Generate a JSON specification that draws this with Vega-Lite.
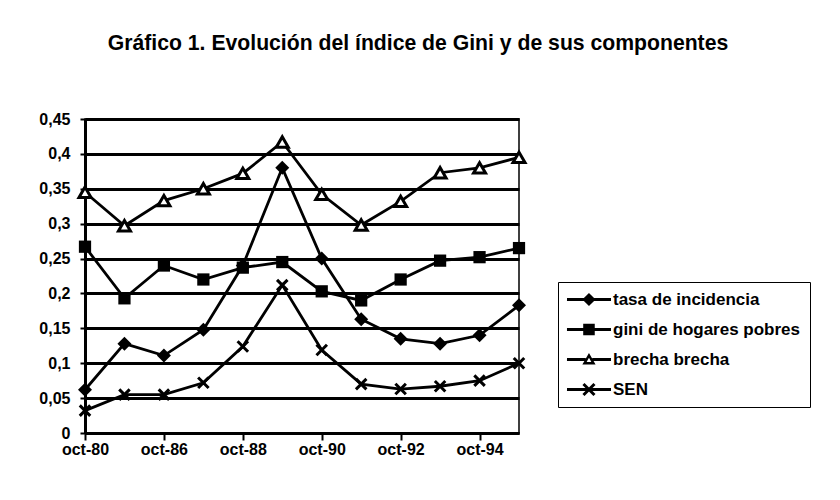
{
  "$schema": "https://vega.github.io/schema/vega-lite/v6.json",
  "width": 434,
  "height": 314,
  "autosize": "none",
  "padding": {"left": 85, "top": 119, "right": 321, "bottom": 67},
  "background": "white",
  "config": {
    "font": "Liberation Sans",
    "view": {"stroke": "black", "strokeWidth": 1.5}
  },
  "title": {
    "text": "Gráfico 1. Evolución del índice de Gini y de sus componentes",
    "anchor": "middle",
    "dx": 116,
    "offset": 57,
    "fontSize": 21.2,
    "fontWeight": "bold",
    "font": "Liberation Sans",
    "color": "black"
  },
  "data": {
    "values": [
      {"fecha": "oct-80", "serie": "tasa de incidencia", "valor": 0.062},
      {"fecha": "oct-85", "serie": "tasa de incidencia", "valor": 0.128},
      {"fecha": "oct-86", "serie": "tasa de incidencia", "valor": 0.111},
      {"fecha": "oct-87", "serie": "tasa de incidencia", "valor": 0.148},
      {"fecha": "oct-88", "serie": "tasa de incidencia", "valor": 0.24},
      {"fecha": "oct-89", "serie": "tasa de incidencia", "valor": 0.38},
      {"fecha": "oct-90", "serie": "tasa de incidencia", "valor": 0.25},
      {"fecha": "oct-91", "serie": "tasa de incidencia", "valor": 0.163},
      {"fecha": "oct-92", "serie": "tasa de incidencia", "valor": 0.135},
      {"fecha": "oct-93", "serie": "tasa de incidencia", "valor": 0.128},
      {"fecha": "oct-94", "serie": "tasa de incidencia", "valor": 0.14},
      {"fecha": "oct-95", "serie": "tasa de incidencia", "valor": 0.183},
      {"fecha": "oct-80", "serie": "gini de hogares pobres", "valor": 0.267},
      {"fecha": "oct-85", "serie": "gini de hogares pobres", "valor": 0.193},
      {"fecha": "oct-86", "serie": "gini de hogares pobres", "valor": 0.24},
      {"fecha": "oct-87", "serie": "gini de hogares pobres", "valor": 0.22},
      {"fecha": "oct-88", "serie": "gini de hogares pobres", "valor": 0.237},
      {"fecha": "oct-89", "serie": "gini de hogares pobres", "valor": 0.245},
      {"fecha": "oct-90", "serie": "gini de hogares pobres", "valor": 0.203},
      {"fecha": "oct-91", "serie": "gini de hogares pobres", "valor": 0.19},
      {"fecha": "oct-92", "serie": "gini de hogares pobres", "valor": 0.22},
      {"fecha": "oct-93", "serie": "gini de hogares pobres", "valor": 0.247},
      {"fecha": "oct-94", "serie": "gini de hogares pobres", "valor": 0.252},
      {"fecha": "oct-95", "serie": "gini de hogares pobres", "valor": 0.265},
      {"fecha": "oct-80", "serie": "brecha brecha", "valor": 0.345},
      {"fecha": "oct-85", "serie": "brecha brecha", "valor": 0.297},
      {"fecha": "oct-86", "serie": "brecha brecha", "valor": 0.333},
      {"fecha": "oct-87", "serie": "brecha brecha", "valor": 0.35},
      {"fecha": "oct-88", "serie": "brecha brecha", "valor": 0.372},
      {"fecha": "oct-89", "serie": "brecha brecha", "valor": 0.417},
      {"fecha": "oct-90", "serie": "brecha brecha", "valor": 0.342},
      {"fecha": "oct-91", "serie": "brecha brecha", "valor": 0.298},
      {"fecha": "oct-92", "serie": "brecha brecha", "valor": 0.332},
      {"fecha": "oct-93", "serie": "brecha brecha", "valor": 0.373},
      {"fecha": "oct-94", "serie": "brecha brecha", "valor": 0.38},
      {"fecha": "oct-95", "serie": "brecha brecha", "valor": 0.395},
      {"fecha": "oct-80", "serie": "SEN", "valor": 0.032},
      {"fecha": "oct-85", "serie": "SEN", "valor": 0.055},
      {"fecha": "oct-86", "serie": "SEN", "valor": 0.055},
      {"fecha": "oct-87", "serie": "SEN", "valor": 0.072},
      {"fecha": "oct-88", "serie": "SEN", "valor": 0.124},
      {"fecha": "oct-89", "serie": "SEN", "valor": 0.212},
      {"fecha": "oct-90", "serie": "SEN", "valor": 0.119},
      {"fecha": "oct-91", "serie": "SEN", "valor": 0.07},
      {"fecha": "oct-92", "serie": "SEN", "valor": 0.063},
      {"fecha": "oct-93", "serie": "SEN", "valor": 0.067},
      {"fecha": "oct-94", "serie": "SEN", "valor": 0.075},
      {"fecha": "oct-95", "serie": "SEN", "valor": 0.1}
    ]
  },
  "encoding": {
    "x": {
      "field": "fecha",
      "type": "ordinal",
      "scale": {
        "type": "point",
        "padding": 0,
        "domain": ["oct-80", "oct-85", "oct-86", "oct-87", "oct-88", "oct-89", "oct-90", "oct-91", "oct-92", "oct-93", "oct-94", "oct-95"]
      },
      "axis": {
        "title": null,
        "values": ["oct-80", "oct-86", "oct-88", "oct-90", "oct-92", "oct-94"],
        "labelAngle": 0,
        "labelFontSize": 16,
        "labelFontWeight": "bold",
        "labelColor": "black",
        "labelPadding": 1,
        "domainColor": "black",
        "domainWidth": 3,
        "tickColor": "black",
        "tickWidth": 2,
        "tickSize": 7,
        "grid": false
      }
    },
    "y": {
      "field": "valor",
      "type": "quantitative",
      "scale": {"domain": [0, 0.45], "nice": false, "zero": true},
      "axis": {
        "title": null,
        "values": [0, 0.05, 0.1, 0.15, 0.2, 0.25, 0.3, 0.35, 0.4, 0.45],
        "labelExpr": "replace(format(datum.value, '.2~f'), '.', ',')",
        "labelFontSize": 16,
        "labelFontWeight": "bold",
        "labelColor": "black",
        "labelPadding": 10,
        "domainColor": "black",
        "domainWidth": 3,
        "tickColor": "black",
        "tickWidth": 2,
        "tickSize": 5,
        "grid": true,
        "gridColor": "black",
        "gridWidth": 3,
        "gridOpacity": 1
      }
    }
  },
  "layer": [
    {
      "mark": {"type": "line", "color": "black", "strokeWidth": 2.8},
      "encoding": {
        "detail": {"field": "serie", "type": "nominal"}
      }
    },
    {
      "transform": [{"filter": "datum.serie === 'tasa de incidencia'"}],
      "mark": {"type": "point", "shape": "diamond", "filled": true, "color": "black", "size": 196, "opacity": 1}
    },
    {
      "transform": [{"filter": "datum.serie === 'gini de hogares pobres'"}],
      "mark": {"type": "point", "shape": "square", "filled": true, "color": "black", "size": 150, "opacity": 1}
    },
    {
      "transform": [{"filter": "datum.serie === 'brecha brecha'"}],
      "mark": {"type": "point", "shape": "triangle-up", "filled": false, "fill": "white", "stroke": "black", "strokeWidth": 3, "size": 144, "opacity": 1}
    },
    {
      "transform": [{"filter": "datum.serie === 'SEN'"}],
      "mark": {"type": "point", "shape": "M-1,-1L1,1M-1,1L1,-1", "filled": false, "stroke": "black", "strokeWidth": 3, "size": 110, "opacity": 1}
    },
    {
      "mark": {"type": "point", "filled": true, "color": "black", "size": 0, "opacity": 1},
      "encoding": {
        "shape": {
          "field": "serie",
          "type": "nominal",
          "scale": {
            "domain": ["tasa de incidencia", "gini de hogares pobres", "brecha brecha", "SEN"],
            "range": [
              "M-1.55,-0.27L6.45,-0.27L6.45,0.27L-1.55,0.27ZM2.45,-1.2L3.65,0L2.45,1.2L1.25,0Z",
              "M-1.55,-0.27L6.45,-0.27L6.45,0.27L-1.55,0.27ZM1.4,-1.05L3.5,-1.05L3.5,1.05L1.4,1.05Z",
              "M-1.55,-0.27L1.85,-0.27L1.85,0.27L-1.55,0.27ZM3.05,-0.27L6.45,-0.27L6.45,0.27L3.05,0.27ZM2.45,-1.2L3.65,0.9L1.25,0.9ZM2.45,-0.3L2.02,0.45L2.88,0.45Z",
              "M-1.55,-0.27L6.45,-0.27L6.45,0.27L-1.55,0.27ZM1.64,-1.19L3.64,0.81L3.26,1.19L1.26,-0.81ZM1.26,0.81L3.26,-1.19L3.64,-0.81L1.64,1.19Z"
            ]
          },
          "legend": {
            "title": null,
            "orient": "none",
            "legendX": 473,
            "legendY": 163,
            "padding": 9,
            "strokeColor": "black",
            "fillColor": "white",
            "symbolSize": 121,
            "symbolStrokeWidth": 0,
            "symbolFillColor": "black",
            "symbolOpacity": 1,
            "labelOffset": 29,
            "labelLimit": 400,
            "labelFontSize": 17,
            "labelFontWeight": "bold",
            "labelColor": "black",
            "rowPadding": 12,
            "encode": {
              "legend": {"strokeWidth": {"value": 2.5}}
            }
          }
        }
      }
    }
  ]
}
